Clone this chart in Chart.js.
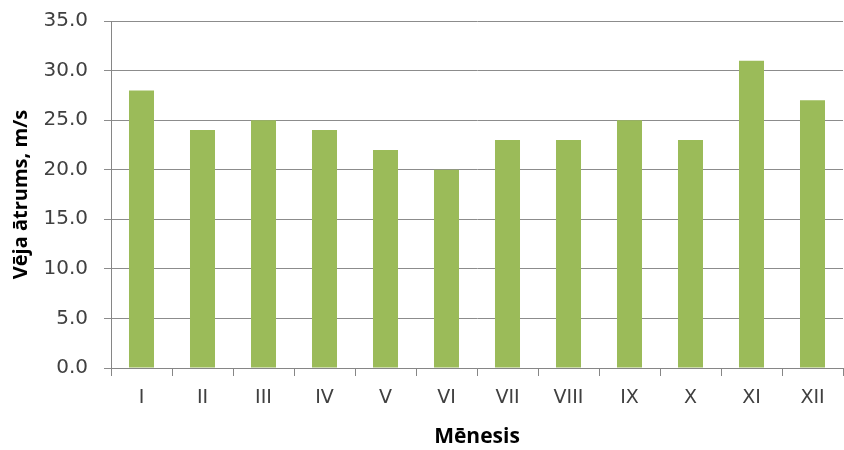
<html>
<head>
	<meta charset="UTF-8">
	<script src="https://cdn.jsdelivr.net/npm/chart.js@4/dist/chart.umd.min.js"></script>
	<style>
		body { margin: 0; background: #fff; }
		#wrap { width: 844px; height: 450px; }
	</style>
</head>
<body>
<div id="wrap"><canvas id="wind"></canvas></div>

<script>
// mēneši un vēja ātrums
var menesi = ['I','II','III','IV','V','VI','VII','VIII','IX','X','XI','XII'];
var atrums = [28, 24, 25, 24, 22, 20, 23, 23, 25, 23, 31, 27];
var yMin = 0, yMax = 35, ySolis = 5;

var font = 'DejaVu Sans';
var txtColor = '#404040';

const ctx = document.getElementById('wind').getContext('2d');
const chart = new Chart(ctx, {
	type: 'bar',
	data: {
		labels: menesi,
		datasets: [{
			data: atrums,
			backgroundColor: '#9BBB59',
			barPercentage: 0.41,
			categoryPercentage: 1.0
		}]
	},
	options: {
		responsive: true,
		maintainAspectRatio: false,
		animation: false,
		layout: { padding: { top: 21, right: 1, left: 0, bottom: 0 } },
		plugins: { legend: { display: false }, tooltip: { enabled: false } },
		scales: {
			x: {
				grid: { drawOnChartArea: false, drawTicks: true, tickLength: 8, color: '#868686' },
				border: { color: '#868686', width: 1 },
				ticks: { color: txtColor, font: { family: font, size: 19 }, padding: 11, maxRotation: 0 },
				title: { display: true, text: 'Mēnesis', color: '#000', font: { family: 'Open Sans', size: 21, weight: 'bold' }, padding: { top: 2, bottom: 0 } },
				afterFit: function(s) { s.height = 82; s.paddingLeft = 0; s.paddingRight = 0; }
			},
			y: {
				min: yMin, max: yMax,
				grid: { color: '#8c8c8c', tickLength: 7, drawTicks: true },
				border: { color: '#868686', width: 1 },
				ticks: {
					stepSize: ySolis, color: txtColor, padding: 16,
					font: { family: font, size: 20 },
					callback: function(v) { return v.toFixed(1); }
				},
				title: { display: true, text: 'Vēja ātrums, m/s', color: '#000', font: { family: 'Open Sans', size: 20, weight: 'bold' }, padding: { top: 9, bottom: 0 } },
				afterFit: function(s) { s.width = 111; s.paddingTop = 0; s.paddingBottom = 0; }
			}
		}
	}
});
</script>
</body>
</html>
